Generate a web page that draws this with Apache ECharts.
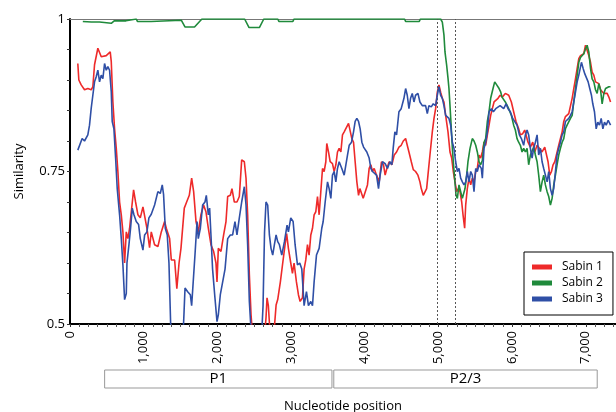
<!DOCTYPE html>
<html><head><meta charset="utf-8">
<script src="https://cdn.jsdelivr.net/npm/echarts@6/dist/echarts.min.js"></script>
<style>html,body{margin:0;padding:0;background:#fff}#c{width:616px;height:412px}</style>
</head><body><div id="c"></div>
<script>
const seriesNames = ['Sabin 1', 'Sabin 2', 'Sabin 3'];
const sabin1 = [[106,.927],[120,.900],[152,.892],[197,.884],[242,.886],[288,.884],[310,.889],[333,.925],[378,.952],[424,.938],[492,.940],[546,.946],[560,.930],[582,.864],[605,.820],[628,.788],[650,.750],[673,.700],[696,.679],[718,.651],[741,.600],[764,.651],[786,.640],[809,.657],[832,.684],[863,.720],[890,.700],[922,.679],[954,.674],[990,.692],[1013,.690],[1044,.657],[1080,.625],[1103,.651],[1148,.630],[1193,.627],[1239,.651],[1284,.668],[1307,.657],[1352,.640],[1375,.605],[1420,.605],[1450,.558],[1480,.600],[1506,.624],[1551,.690],[1583,.700],[1619,.711],[1651,.739],[1678,.717],[1710,.668],[1741,.651],[1777,.679],[1813,.695],[1845,.684],[1877,.657],[1913,.630],[1949,.619],[1981,.600],[1995,.569],[2013,.624],[2049,.619],[2085,.646],[2117,.668],[2140,.709],[2176,.711],[2198,.722],[2230,.700],[2266,.700],[2298,.709],[2330,.769],[2366,.766],[2389,.739],[2411,.679],[2434,.581],[2457,.515],[2479,.480],[2640,.480],[2660,.510],[2674,.543],[2692,.530],[2710,.495],[2774,.495],[2797,.531],[2819,.540],[2855,.569],[2887,.600],[2919,.630],[2940,.648],[2964,.624],[2996,.600],[3019,.583],[3041,.600],[3073,.569],[3100,.548],[3123,.537],[3155,.543],[3177,.590],[3200,.605],[3223,.630],[3245,.613],[3268,.646],[3291,.657],[3313,.679],[3336,.684],[3359,.709],[3381,.679],[3404,.717],[3427,.755],[3449,.750],[3472,.766],[3485,.796],[3508,.782],[3531,.766],[3562,.763],[3585,.750],[3608,.761],[3630,.782],[3653,.788],[3676,.782],[3698,.810],[3721,.815],[3744,.818],[3780,.829],[3802,.826],[3825,.804],[3848,.798],[3870,.766],[3893,.733],[3916,.711],[3934,.722],[3961,.722],[3979,.706],[4006,.703],[4037,.728],[4060,.755],[4083,.761],[4105,.750],[4128,.755],[4160,.744],[4196,.733],[4227,.766],[4255,.761],[4277,.744],[4300,.755],[4332,.766],[4368,.761],[4400,.777],[4432,.782],[4464,.790],[4495,.793],[4523,.800],[4555,.804],[4577,.793],[4600,.782],[4632,.766],[4659,.753],[4690,.750],[4722,.744],[4749,.733],[4767,.722],[4794,.711],[4812,.709],[4840,.722],[4858,.744],[4885,.777],[4917,.815],[4940,.837],[4962,.853],[4985,.880],[5007,.892],[5030,.880],[5053,.870],[5075,.864],[5098,.842],[5130,.815],[5157,.782],[5180,.772],[5202,.750],[5225,.733],[5248,.717],[5270,.722],[5293,.717],[5316,.700],[5334,.679],[5356,.657],[5370,.695],[5392,.722],[5415,.739],[5438,.728],[5460,.739],[5483,.733],[5506,.750],[5528,.755],[5551,.777],[5573,.772],[5596,.782],[5619,.798],[5641,.793],[5664,.810],[5687,.826],[5709,.842],[5732,.853],[5755,.864],[5778,.864],[5809,.870],[5837,.875],[5868,.872],[5908,.878],[5954,.875],[5990,.864],[6021,.848],[6053,.832],[6089,.820],[6112,.810],[6144,.812],[6171,.818],[6189,.815],[6216,.798],[6248,.790],[6280,.798],[6307,.782],[6339,.793],[6370,.788],[6407,.782],[6443,.790],[6466,.793],[6488,.766],[6511,.744],[6534,.750],[6556,.761],[6579,.766],[6601,.777],[6633,.793],[6656,.804],[6679,.815],[6701,.832],[6724,.840],[6746,.842],[6769,.845],[6792,.848],[6815,.870],[6837,.886],[6860,.902],[6883,.919],[6905,.935],[6928,.940],[6950,.941],[6973,.943],[6996,.957],[7018,.955],[7041,.940],[7064,.929],[7086,.913],[7109,.908],[7132,.897],[7154,.895],[7177,.894],[7200,.884],[7222,.881],[7245,.878],[7268,.881],[7290,.878],[7313,.872],[7336,.864]];
const sabin2 = [[174,.996],[290,.995],[400,.995],[560,.993],[580,.990],[600,.997],[760,.997],[775,1],[900,1],[915,.996],[1100,.996],[1115,.998],[1510,.998],[1560,.987],[1690,.987],[1790,1],[2370,1],[2430,.986],[2570,.986],[2630,1],[2820,1],[2835,.996],[3025,.996],[3040,1],[4540,1],[4555,.996],[4740,.996],[4755,1],[5030,1],[5053,.995],[5075,.974],[5089,.946],[5111,.925],[5130,.903],[5143,.886],[5157,.858],[5175,.820],[5189,.788],[5202,.766],[5220,.739],[5239,.711],[5257,.706],[5279,.728],[5302,.725],[5325,.706],[5347,.706],[5361,.722],[5383,.744],[5401,.766],[5429,.788],[5460,.804],[5483,.800],[5506,.793],[5528,.782],[5551,.766],[5573,.761],[5596,.768],[5619,.798],[5641,.804],[5664,.832],[5687,.848],[5709,.870],[5741,.886],[5764,.897],[5791,.892],[5823,.886],[5846,.880],[5863,.872],[5908,.864],[5954,.853],[5990,.842],[6021,.826],[6044,.818],[6067,.804],[6089,.798],[6112,.793],[6135,.782],[6157,.788],[6180,.782],[6203,.788],[6225,.761],[6248,.777],[6271,.780],[6293,.790],[6316,.777],[6339,.766],[6361,.744],[6384,.717],[6407,.733],[6429,.744],[6452,.728],[6475,.717],[6497,.709],[6520,.695],[6543,.706],[6565,.728],[6588,.744],[6610,.761],[6633,.777],[6656,.788],[6679,.798],[6701,.804],[6724,.820],[6746,.826],[6769,.826],[6792,.837],[6815,.842],[6837,.864],[6860,.886],[6883,.908],[6905,.929],[6928,.937],[6950,.940],[6973,.943],[6996,.951],[7018,.957],[7041,.946],[7064,.919],[7086,.902],[7109,.897],[7132,.884],[7154,.878],[7177,.894],[7200,.884],[7222,.861],[7245,.878],[7268,.886],[7290,.889],[7313,.889],[7336,.889]];
const sabin3 = [[106,.785],[129,.788],[165,.804],[197,.800],[242,.810],[265,.826],[288,.854],[310,.875],[333,.897],[355,.905],[378,.916],[401,.897],[424,.908],[446,.902],[469,.927],[492,.916],[514,.922],[537,.916],[560,.881],[573,.832],[596,.820],[619,.772],[641,.722],[673,.679],[696,.640],[718,.597],[741,.540],[764,.550],[773,.600],[800,.630],[822,.657],[845,.690],[868,.679],[899,.668],[931,.663],[954,.640],[990,.621],[1013,.646],[1044,.651],[1071,.674],[1103,.680],[1148,.695],[1193,.717],[1225,.714],[1252,.728],[1270,.712],[1293,.657],[1320,.646],[1343,.600],[1366,.500],[1380,.470],[1530,.470],[1548,.520],[1561,.559],[1597,.553],[1633,.548],[1651,.530],[1678,.530],[1696,.613],[1724,.668],[1741,.640],[1769,.657],[1800,.695],[1832,.700],[1850,.711],[1877,.679],[1895,.690],[1913,.646],[1935,.590],[1967,.543],[1995,.504],[2013,.515],[2040,.548],[2072,.569],[2104,.590],[2140,.640],[2176,.646],[2207,.646],[2239,.668],[2266,.646],[2298,.674],[2330,.700],[2366,.725],[2389,.695],[2411,.630],[2434,.537],[2457,.490],[2600,.480],[2620,.530],[2640,.650],[2660,.700],[2683,.695],[2706,.646],[2728,.624],[2751,.613],[2774,.630],[2797,.646],[2819,.635],[2842,.630],[2874,.613],[2910,.635],[2946,.662],[2964,.651],[2996,.674],[3028,.668],[3055,.630],[3087,.597],[3118,.600],[3146,.590],[3177,.530],[3209,.553],[3236,.530],[3268,.537],[3291,.530],[3313,.569],[3345,.613],[3381,.624],[3417,.657],[3436,.668],[3463,.700],[3495,.733],[3517,.722],[3540,.706],[3562,.744],[3585,.750],[3608,.733],[3630,.755],[3653,.766],[3689,.755],[3721,.744],[3744,.761],[3766,.777],[3789,.793],[3821,.798],[3848,.815],[3870,.832],[3893,.837],[3916,.832],[3938,.820],[3961,.798],[3984,.790],[4006,.793],[4028,.782],[4060,.772],[4083,.755],[4105,.750],[4128,.752],[4160,.744],[4187,.722],[4209,.744],[4241,.766],[4277,.763],[4309,.755],[4341,.766],[4368,.761],[4386,.788],[4409,.815],[4432,.810],[4464,.848],[4495,.853],[4532,.870],[4555,.886],[4577,.875],[4600,.853],[4622,.870],[4645,.878],[4668,.864],[4690,.875],[4722,.878],[4749,.864],[4781,.858],[4803,.858],[4826,.858],[4849,.845],[4871,.858],[4903,.856],[4930,.861],[4962,.858],[4985,.875],[5007,.889],[5030,.875],[5053,.870],[5075,.858],[5098,.842],[5121,.845],[5143,.837],[5166,.826],[5189,.798],[5211,.788],[5234,.766],[5257,.750],[5279,.755],[5302,.739],[5325,.733],[5347,.728],[5370,.733],[5392,.750],[5415,.733],[5438,.750],[5460,.744],[5483,.717],[5506,.755],[5528,.750],[5551,.761],[5582,.755],[5596,.739],[5619,.788],[5641,.798],[5664,.815],[5687,.848],[5719,.853],[5746,.848],[5778,.853],[5800,.856],[5837,.858],[5863,.861],[5886,.853],[5918,.861],[5945,.853],[5976,.848],[6008,.837],[6035,.840],[6067,.826],[6099,.810],[6126,.804],[6157,.793],[6180,.810],[6203,.818],[6225,.810],[6248,.788],[6271,.772],[6293,.788],[6316,.798],[6339,.810],[6361,.777],[6384,.788],[6407,.766],[6429,.755],[6452,.744],[6475,.733],[6497,.750],[6520,.722],[6543,.711],[6565,.722],[6588,.750],[6610,.777],[6633,.788],[6656,.798],[6679,.810],[6701,.815],[6724,.832],[6746,.832],[6769,.837],[6792,.842],[6815,.848],[6837,.864],[6860,.880],[6883,.897],[6905,.908],[6928,.908],[6941,.929],[6964,.919],[6987,.910],[7009,.908],[7032,.897],[7054,.886],[7077,.875],[7095,.861],[7118,.848],[7141,.820],[7163,.831],[7186,.826],[7209,.837],[7232,.820],[7254,.831],[7277,.826],[7304,.834],[7336,.826]];
const regionNames = ['P1', 'P2/3'];
const regionStarts = [470, 3580];
const regionEnds = [3555, 7155];
const boundaries = [4990, 5235];
const yLabelValues = [0.5, 0.75, 1];
const X_MAX = 7410;

const FONT = 'Open Sans';
const colors = ['#ee2a2a', '#1f8a3b', '#2f4fa6'];
const chart = echarts.init(document.getElementById('c'), null, {renderer: 'canvas'});
const lineSeries = [sabin1, sabin2, sabin3].map((d, i) => ({
  name: seriesNames[i], type: 'line', data: d, xAxisIndex: 0, yAxisIndex: 0,
  showSymbol: false, symbol: 'none', clip: true,
  lineStyle: {width: 1.6, color: colors[i]}, itemStyle: {color: colors[i]},
  z: 3 + i
}));
lineSeries[0].markLine = {
  silent: true, symbol: ['none', 'none'], label: {show: false},
  lineStyle: {type: [2, 2], color: '#555', width: 1},
  data: boundaries.map(b => ({xAxis: b}))
};
chart.setOption({
  animation: false,
  backgroundColor: '#fff',
  textStyle: {fontFamily: FONT},
  grid: [
    {left: 70, top: 19, width: 546, height: 305, outerBoundsMode: 'none', containLabel: false},
    {left: 70, top: 370, width: 546, height: 18, outerBoundsMode: 'none', containLabel: false}
  ],
  legend: {
    data: seriesNames, orient: 'vertical', left: 524, top: 252,
    padding: [7, 10, 8, 8], borderColor: '#000', borderWidth: 1, backgroundColor: '#fff',
    icon: 'rect', itemWidth: 20, itemHeight: 5, itemGap: 0,
    textStyle: {fontFamily: FONT, fontSize: 12, color: '#000', lineHeight: 16, padding: [0, 0, 0, 5]}
  },
  xAxis: [
    {gridIndex: 0, type: 'value', min: 0, max: X_MAX, interval: 1000,
     axisLine: {lineStyle: {color: '#000', width: 2}},
     axisTick: {show: true, length: 3, lineStyle: {color: '#333'}},
     minorTick: {show: true, splitNumber: 8, length: 3, lineStyle: {color: '#555'}},
     splitLine: {show: false}, minorSplitLine: {show: false},
     axisLabel: {rotate: 90, margin: 7, color: '#000', fontFamily: FONT, fontSize: 13, showMaxLabel: false,
       formatter: v => (v % 1000 === 0 ? v.toLocaleString('en-US') : '')},
     name: 'Nucleotide position', nameLocation: 'middle', nameGap: 76,
     nameTextStyle: {color: '#000', fontFamily: FONT, fontSize: 13}},
    {gridIndex: 0, type: 'value', position: 'top', min: 0, max: X_MAX,
     axisLine: {show: true, lineStyle: {color: '#777', width: 1}},
     axisTick: {show: false}, axisLabel: {show: false}, splitLine: {show: false}},
    {gridIndex: 1, type: 'value', min: 0, max: X_MAX, show: false}
  ],
  yAxis: [
    {gridIndex: 0, type: 'value', min: 0.5, max: 1, interval: 0.05,
     axisLine: {show: true, lineStyle: {color: '#000', width: 2}},
     axisTick: {show: true, length: 3, lineStyle: {color: '#333'}},
     splitLine: {show: false},
     axisLabel: {color: '#000', fontFamily: FONT, fontSize: 13, margin: 5,
       formatter: v => {
         const hit = yLabelValues.find(t => Math.abs(t - v) < 1e-6);
         return hit === undefined ? '' : String(hit);
       }},
     name: 'Similarity', nameLocation: 'middle', nameGap: 44,
     nameTextStyle: {color: '#000', fontFamily: FONT, fontSize: 13}},
    {gridIndex: 1, type: 'value', min: 0, max: 1, show: false}
  ],
  series: lineSeries.concat([{
    type: 'custom', xAxisIndex: 2, yAxisIndex: 1, silent: true,
    data: regionNames.map((n, i) => [regionStarts[i], regionEnds[i]]),
    renderItem: (params, api) => {
      const a = api.coord([api.value(0), 1]);
      const b = api.coord([api.value(1), 0]);
      return {type: 'group', children: [
        {type: 'rect', shape: {x: a[0], y: a[1], width: b[0] - a[0], height: b[1] - a[1]},
         style: {fill: '#fff', stroke: '#999', lineWidth: 1}},
        {type: 'text', x: (a[0] + b[0]) / 2, y: (a[1] + b[1]) / 2,
         style: {text: regionNames[params.dataIndex], fill: '#000', font: '15px ' + FONT,
                 textAlign: 'center', textVerticalAlign: 'middle'}}
      ]};
    }
  }])
});
</script></body></html>
